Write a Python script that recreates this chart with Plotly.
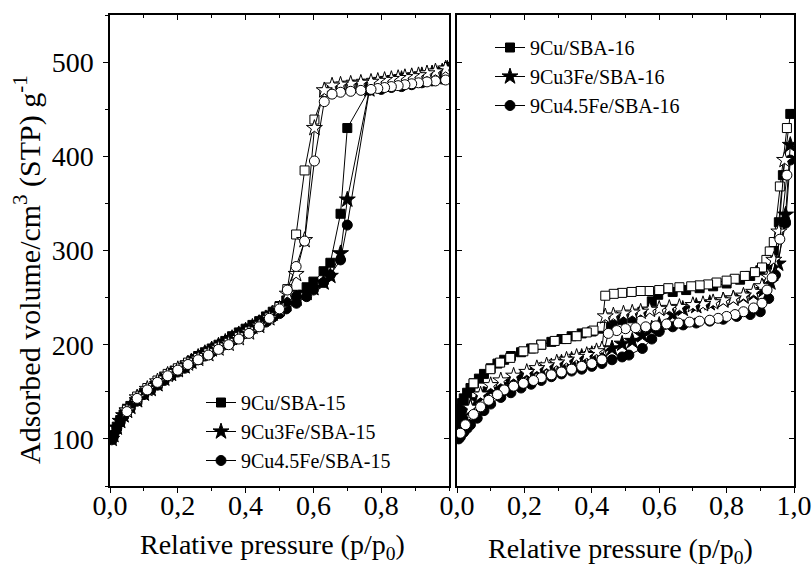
import plotly.graph_objects as go

# ---------------- data: SBA-15 (left panel) ----------------
l_cu_ads_x = [0.005,0.01,0.02,0.03,0.04,0.05,0.06,0.08,0.10,0.12,0.14,0.16,0.18,0.20,0.22,0.24,0.26,0.28,0.30,0.32,0.34,0.36,0.38,0.40,0.42,0.44,0.46,0.48,0.50,0.52,0.55,0.58,0.60,0.63,0.65,0.68,0.70,0.765,0.80,0.83,0.86,0.89,0.92,0.95,0.98,0.995]
l_cu_ads_y = [100,104,113,120,126,131,135,142,149,154,159,166,170,174,178,183,188,192,196,200,204,209,213,217,221,225,230,235,241,247,253,261,267,278,287,339,430,471,474,476,478,481,484,487,490,492]
l_cufe3_ads_x = l_cu_ads_x
l_cufe3_ads_y = [100,104,112,119,125,130,134,141,148,153,158,164,169,173,177,182,187,191,195,199,203,207,211,215,219,223,228,233,238,243,249,255,260,266,273,297,354,471,476,479,482,484,486,488,490,493]
l_cufe45_ads_x = l_cu_ads_x
l_cufe45_ads_y = [99,103,111,118,124,129,133,140,147,152,157,162,167,171,175,180,184,188,192,196,200,204,208,212,216,220,224,229,233,238,244,251,258,266,274,290,327,470,471,473,474,476,478,480,482,483]

l_des_x = [0.99,0.96,0.935,0.91,0.89,0.87,0.85,0.83,0.81,0.79,0.77,0.74,0.71,0.68,0.655,0.632,0.603,0.574,0.549,0.523,0.50,0.47,0.44,0.41,0.38,0.35,0.32,0.29,0.26,0.23,0.20,0.17,0.14,0.11,0.08,0.05]
l_cu_des_y = [490,488,486,485,484,483,482,481,480,479,478,477,476,474,472,468,439,385,317,259,240,229,220,214,208,202,197,191,186,181,175,169,162,154,145,131]
l_cufe3_des_y = [493,490,488,486,485,484,483,482,481,480,479,478,477,476,475,470,430,311,275,254,238,228,220,213,207,201,196,190,185,180,174,168,161,153,144,130]
l_cufe45_des_y = [481,480,479,478,477,476,475,474,473,472,471,470,469,468,466,458,395,310,283,258,238,228,219,212,206,200,195,189,184,179,173,167,160,152,143,129]

# ---------------- data: SBA-16 (right panel) ----------------
r_cu_ads_x = [0.002,0.005,0.01,0.015,0.02,0.03,0.04,0.05,0.065,0.08,0.10,0.12,0.14,0.16,0.19,0.22,0.25,0.28,0.31,0.34,0.37,0.40,0.43,0.46,0.49,0.52,0.55,0.578,0.597,0.64,0.68,0.72,0.76,0.80,0.84,0.87,0.90,0.92,0.94,0.955,0.967,0.989]
r_cu_ads_y = [117,125,132,138,143,149,154,159,164,169,175,180,184,188,192,196,200,203,206,209,212,214,217,221,226,228,235,246,253,256,258,260,262,265,269,273,279,285,300,330,380,445]
r_cu_des_x = [0.979,0.958,0.94,0.928,0.918,0.905,0.884,0.854,0.824,0.80,0.77,0.745,0.72,0.695,0.66,0.627,0.60,0.57,0.545,0.518,0.49,0.465,0.44,0.43,0.405,0.385,0.355,0.325,0.29,0.25,0.227,0.197,0.158,0.128,0.099,0.049]
r_cu_des_y = [430,368,309,299,290,282,277,273,270,268,266,264,263,262,261,260,258,257,257,256,255,254,252,219,215,213,209,206,204,200,196,193,186,181,174,159]

r_cufe3_ads_x = [0.003,0.01,0.02,0.03,0.04,0.06,0.08,0.10,0.13,0.16,0.19,0.22,0.25,0.28,0.31,0.34,0.37,0.40,0.43,0.46,0.49,0.52,0.55,0.578,0.60,0.64,0.67,0.71,0.75,0.79,0.82,0.85,0.88,0.91,0.93,0.953,0.975,0.989]
r_cufe3_ads_y = [112,120,126,130,134,141,147,152,157,161,165,169,173,177,181,184,187,190,193,196,201,204,210,217,221,232,238,241,244,247,249,251,254,258,266,286,338,412]
r_cufe3_des_x = [0.972,0.955,0.94,0.925,0.905,0.88,0.85,0.82,0.79,0.76,0.73,0.70,0.66,0.63,0.60,0.572,0.545,0.52,0.494,0.464,0.44,0.43,0.414,0.385,0.355,0.325,0.296,0.266,0.237,0.207,0.168,0.13,0.10,0.07,0.04]
r_cufe3_des_y = [396,320,290,272,262,256,252,249,247,245,243,242,240,239,238,237,235,234,233,231,230,195,193,189,187,184,181,178,175,171,167,162,157,147,133]

r_cufe45_ads_x = [0.005,0.01,0.02,0.03,0.04,0.06,0.08,0.10,0.13,0.16,0.19,0.22,0.25,0.28,0.31,0.34,0.37,0.40,0.43,0.46,0.49,0.51,0.55,0.578,0.60,0.64,0.671,0.71,0.75,0.79,0.83,0.87,0.90,0.925,0.945,0.975,0.989]
r_cufe45_ads_y = [100,102,107,111,115,122,130,137,144,149,154,158,162,166,169,172,174,177,180,184,187,189,196,206,214,219,221,223,225,227,230,232,235,249,274,329,396]
r_cufe45_des_x = [0.979,0.958,0.935,0.92,0.905,0.88,0.85,0.825,0.80,0.775,0.75,0.72,0.69,0.657,0.622,0.59,0.56,0.53,0.50,0.474,0.449,0.43,0.40,0.37,0.34,0.31,0.28,0.25,0.227,0.197,0.168,0.14,0.12,0.094,0.07,0.049,0.025,0.01]
r_cufe45_des_y = [380,312,271,258,244,239,235,232,230,228,226,225,224,223,222,220,219,218,217,215,212,184,180,177,174,171,168,165,162,159,156,152,147,141,134,126,115,106]

# ---------------- labels / ticks ----------------
names_left = ["9Cu/SBA-15", "9Cu3Fe/SBA-15", "9Cu4.5Fe/SBA-15"]
names_right = ["9Cu/SBA-16", "9Cu3Fe/SBA-16", "9Cu4.5Fe/SBA-16"]
x_tickvals_left = [0.0, 0.2, 0.4, 0.6, 0.8]
x_ticktext_left = ["0,0", "0,2", "0,4", "0,6", "0,8"]
x_tickvals_right = [0.0, 0.2, 0.4, 0.6, 0.8, 1.0]
x_ticktext_right = ["0,0", "0,2", "0,4", "0,6", "0,8", "1,0"]
y_tickvals = [100, 200, 300, 400, 500]
x_title = "Relative pressure (p/p<sub>0</sub>)"
y_title = "Adsorbed volume/cm<sup>3</sup> (STP) g<sup>-1</sup>"

FONT = "Liberation Serif"
symbols = ["square", "star", "circle"]
sizes = [9, 12, 10]

fig = go.Figure()

left_ads = [(l_cu_ads_x, l_cu_ads_y), (l_cufe3_ads_x, l_cufe3_ads_y), (l_cufe45_ads_x, l_cufe45_ads_y)]
left_des = [(l_des_x, l_cu_des_y), (l_des_x, l_cufe3_des_y), (l_des_x, l_cufe45_des_y)]
right_ads = [(r_cu_ads_x, r_cu_ads_y), (r_cufe3_ads_x, r_cufe3_ads_y), (r_cufe45_ads_x, r_cufe45_ads_y)]
right_des = [(r_cu_des_x, r_cu_des_y), (r_cufe3_des_x, r_cufe3_des_y), (r_cufe45_des_x, r_cufe45_des_y)]


def add_panel(ads, des, names, xa, ya, leg):
    for i in range(3):
        fig.add_trace(go.Scatter(
            x=ads[i][0], y=ads[i][1], mode="lines+markers", name=names[i],
            xaxis=xa, yaxis=ya, legend=leg,
            line=dict(color="black", width=1),
            marker=dict(symbol=symbols[i], size=sizes[i], color="black",
                        line=dict(color="black", width=1)),
        ))
    for i in range(3):
        fig.add_trace(go.Scatter(
            x=des[i][0], y=des[i][1], mode="lines+markers", showlegend=False,
            xaxis=xa, yaxis=ya,
            line=dict(color="black", width=1),
            marker=dict(symbol=symbols[i], size=sizes[i], color="white",
                        line=dict(color="black", width=1)),
        ))


add_panel(left_ads, left_des, names_left, "x", "y", "legend")
add_panel(right_ads, right_des, names_right, "x2", "y2", "legend2")

# empty traces so that the mirrored (top/right) axes are drawn
for xa, ya in [("x3", "y3"), ("x4", "y4")]:
    fig.add_trace(go.Scatter(x=[], y=[], xaxis=xa, yaxis=ya, showlegend=False, hoverinfo="skip"))

W, H = 812, 566
ML, MR, MT, MB = 110, 18, 15, 80
PW, PH = W - ML - MR, H - MT - MB


def px(xp):
    return (xp - ML) / PW


def py(yp):
    return (H - MB - yp) / PH


dom_l = [0, px(449)]
dom_r = [px(457), 1]
XR = [0, 1.0]
YR = [50, 550]

axis_common = dict(showline=True, linecolor="black", linewidth=1.5, showgrid=False,
                   zeroline=False, tickcolor="black", tickwidth=1.2, automargin=False,
                   tickfont=dict(family=FONT, size=28, color="black"))

fig.update_layout(
    template="none",
    width=W, height=H,
    margin=dict(l=ML, r=MR, t=MT, b=MB, pad=0),
    paper_bgcolor="white", plot_bgcolor="white",
    font=dict(family=FONT, color="black"),
    xaxis=dict(domain=dom_l, range=XR, anchor="y", tickvals=x_tickvals_left, ticktext=x_ticktext_left,
               ticks="outside", ticklen=5, ticklabelstandoff=-11,
               minor=dict(ticks="outside", dtick=0.1, ticklen=3, tickcolor="black"), **axis_common),
    yaxis=dict(domain=[0, 1], range=YR, anchor="x", tickvals=y_tickvals,
               ticks="outside", ticklen=5, ticklabelstandoff=4,
               minor=dict(ticks="outside", dtick=50, tick0=0, ticklen=3, tickcolor="black"), **axis_common),
    xaxis2=dict(domain=dom_r, range=XR, anchor="y2", tickvals=x_tickvals_right, ticktext=x_ticktext_right,
                ticks="outside", ticklen=5, ticklabelstandoff=-11,
                minor=dict(ticks="outside", dtick=0.1, ticklen=3, tickcolor="black"), **axis_common),
    yaxis2=dict(domain=[0, 1], range=YR, anchor="x2", tickvals=y_tickvals, showticklabels=False,
                ticks="inside", ticklen=5,
                minor=dict(ticks="inside", dtick=50, tick0=0, ticklen=3, tickcolor="black"), **axis_common),
    xaxis3=dict(overlaying="x", side="top", anchor="y", range=XR, tickvals=x_tickvals_right, showticklabels=False,
                ticks="inside", ticklen=5,
                minor=dict(ticks="inside", dtick=0.1, ticklen=3, tickcolor="black"), **axis_common),
    yaxis3=dict(overlaying="y", side="right", anchor="x", range=YR, tickvals=y_tickvals, showticklabels=False,
                ticks="inside", ticklen=5,
                minor=dict(ticks="inside", dtick=50, tick0=0, ticklen=3, tickcolor="black"), **axis_common),
    xaxis4=dict(overlaying="x2", side="top", anchor="y2", range=XR, tickvals=x_tickvals_right, showticklabels=False,
                ticks="inside", ticklen=5,
                minor=dict(ticks="inside", dtick=0.1, ticklen=3, tickcolor="black"), **axis_common),
    yaxis4=dict(overlaying="y2", side="right", anchor="x2", range=YR, tickvals=y_tickvals, showticklabels=False,
                ticks="inside", ticklen=5,
                minor=dict(ticks="inside", dtick=50, tick0=0, ticklen=3, tickcolor="black"), **axis_common),
    legend=dict(x=px(201), y=py(383), xanchor="left", yanchor="top", bgcolor="rgba(0,0,0,0)",
                font=dict(family=FONT, size=20, color="black"), tracegroupgap=0, itemwidth=30,
                borderwidth=0),
    legend2=dict(x=px(490), y=py(28), xanchor="left", yanchor="top", bgcolor="rgba(0,0,0,0)",
                 font=dict(family=FONT, size=20, color="black"), tracegroupgap=0, itemwidth=30,
                 borderwidth=0),
    showlegend=True,
)

fig.add_annotation(text=x_title, x=px(272), y=py(546), xref="paper", yref="paper",
                   xanchor="center", yanchor="middle",
                   showarrow=False, font=dict(family=FONT, size=28, color="black"))
fig.add_annotation(text=x_title, x=px(620), y=py(550), xref="paper", yref="paper",
                   xanchor="center", yanchor="middle",
                   showarrow=False, font=dict(family=FONT, size=28, color="black"))
fig.add_annotation(text=y_title, x=px(27), y=py(270), xref="paper", yref="paper",
                   xanchor="center", yanchor="middle",
                   showarrow=False, textangle=-90, font=dict(family=FONT, size=30, color="black"))

fig.write_html("out.html", config={"displayModeBar": False},
               post_script="document.body.style.margin='0';")
